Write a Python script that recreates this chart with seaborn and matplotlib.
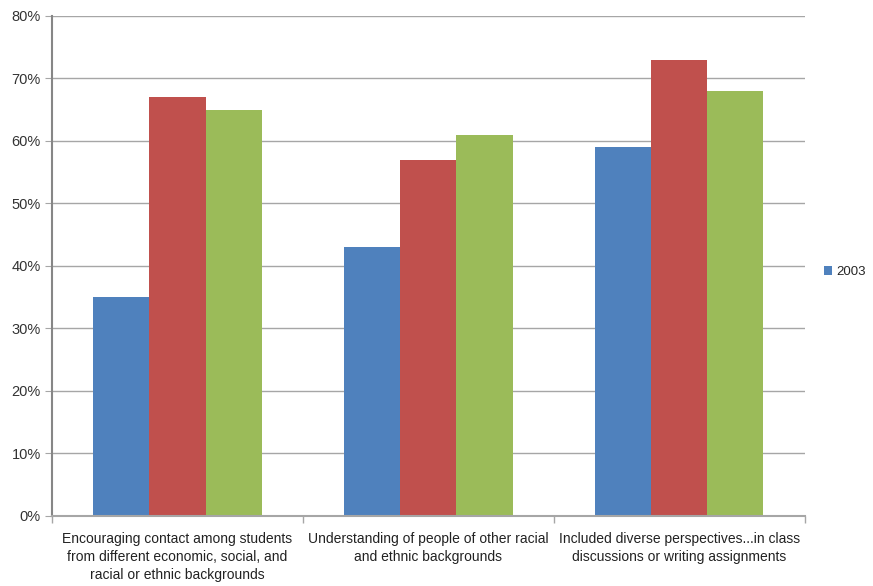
import pandas as pd
import seaborn as sns
import matplotlib.pyplot as plt
from matplotlib.ticker import PercentFormatter, FixedLocator

# %% Dados
categorias = [
    "Encouraging contact among students\nfrom different economic, social, and\nracial or ethnic backgrounds",
    "Understanding of people of other racial\nand ethnic backgrounds",
    "Included diverse perspectives...in class\ndiscussions or writing assignments",
]
series = ["2003", "Serie 2", "Serie 3"]
valores_2003 = [35, 43, 59]
valores_serie2 = [67, 57, 73]
valores_serie3 = [65, 61, 68]
cores = ["#4F81BD", "#C0504D", "#9BBB59"]

df = pd.DataFrame({
    "item": categorias * 3,
    "serie": [s for s in series for _ in categorias],
    "valor": valores_2003 + valores_serie2 + valores_serie3,
})

# %% Grafico
sns.set_style("white")
plt.rcParams["font.family"] = ["Liberation Sans", "DejaVu Sans"]

fig = plt.figure(figsize=(8.73, 5.86), dpi=100)
ax = fig.add_axes([0.0596, 0.1195, 0.8624, 0.8532])
sns.barplot(data=df, x="item", y="valor", hue="serie", palette=cores,
            width=0.67, saturation=1, ax=ax, legend=True,
            edgecolor="none")

ax.set_ylim(0, 80)
ax.set_xlim(-0.5, 2.5)
ax.yaxis.set_major_formatter(PercentFormatter(decimals=0))
ax.set_yticks(range(0, 81, 10))
ax.yaxis.grid(True, color="#A6A6A6", linewidth=1)
ax.set_axisbelow(True)
ax.set_xlabel("")
ax.set_ylabel("")

for s in ["top", "right"]:
    ax.spines[s].set_visible(False)
ax.spines["left"].set_color("#868686")
ax.spines["left"].set_linewidth(1.5)
ax.spines["bottom"].set_color("#A6A6A6")
ax.spines["bottom"].set_linewidth(1.5)

ax.tick_params(axis="y", which="major", left=True, length=5, color="#A6A6A6",
               labelsize=10.5, labelcolor="#333333", pad=3)
ax.tick_params(axis="x", which="major", bottom=False, labelsize=10,
               labelcolor="#222222", pad=8)
for lbl in ax.get_xticklabels():
    lbl.set_linespacing(1.35)
ax.xaxis.set_minor_locator(FixedLocator([-0.5, 0.5, 1.5, 2.5]))
ax.tick_params(axis="x", which="minor", bottom=True, length=5, color="#A6A6A6", width=1)

handles, labels = ax.get_legend_handles_labels()
ax.get_legend().remove()
fig.legend(handles[:1], labels[:1], loc="center left",
           bbox_to_anchor=(0.942, 1 - 272 / 586), frameon=False,
           handlelength=0.6, handleheight=0.6, handletextpad=0.35, fontsize=9.5,
           borderpad=0.1, borderaxespad=0)

plt.savefig("out.png", dpi=100)
